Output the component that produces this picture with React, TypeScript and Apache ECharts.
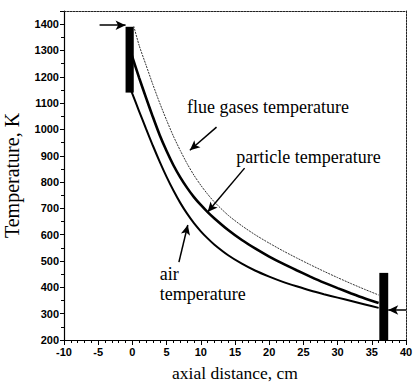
import React, { useEffect, useRef } from 'react';
import * as echarts from 'echarts';

// axial distance (cm) and temperature (K)
const flueX = [0.2, 1, 2, 3, 4, 5, 6, 7, 8, 9, 10, 11, 12, 14, 16, 18, 20, 22, 24, 26, 28, 30, 32, 34, 36];
const flueT = [1392, 1318, 1244, 1170, 1100, 1035, 974, 920, 870, 826, 788, 754, 724, 674, 634, 599, 568, 539, 512, 486, 461, 437, 414, 392, 371];

const particleX = [-0.5, 0, 1, 2, 3, 4, 5, 6, 7, 8, 9, 10, 11, 12, 14, 16, 18, 20, 22, 24, 26, 28, 30, 32, 34, 36];
const particleT = [1315, 1275, 1195, 1120, 1047, 978, 918, 864, 818, 778, 743, 713, 686, 662, 618, 580, 547, 517, 490, 465, 441, 418, 397, 377, 358, 341];

const airX = [-0.5, 0, 1, 2, 3, 4, 5, 6, 7, 8, 9, 10, 11, 12, 14, 16, 18, 20, 22, 24, 26, 28, 30, 32, 34, 36];
const airT = [1170, 1135, 1068, 1002, 938, 877, 820, 768, 721, 680, 644, 613, 586, 562, 522, 490, 463, 441, 421, 404, 388, 374, 361, 348, 335, 322];

// black end blocks [x0, x1, T0, T1]
const leftBlock = [-1.0, 0.2, 1140, 1390];
const rightBlock = [36.1, 37.4, 200, 455];

// arrows [xFrom, TFrom, xTo, TTo]
const inletArrowTop = [-4.8, 1396, -1.0, 1396];
const inletArrowRight = [40, 314, 37.4, 314];
const flueArrow = [12.3, 1009, 8.4, 921];
const particleArrow = [16.4, 853, 11.0, 686];
const airArrow = [6.8, 496, 8.1, 637];

// annotation labels [text, x, T]
const labels: [string, number, number][] = [
  ['flue gases temperature', 8.0, 1085],
  ['particle temperature', 15.2, 895],
  ['air', 4.0, 449],
  ['temperature', 4.0, 373],
];

const xTicks = { min: -10, max: 40, interval: 5 };
const yTicks = { min: 200, max: 1450, interval: 100 };

export default function App() {
  const ref = useRef<HTMLDivElement>(null);
  useEffect(() => {
    if (!ref.current) return;
    const chart = echarts.init(ref.current, null, { renderer: 'svg' });
    const tickFont = { fontFamily: 'Liberation Sans', fontSize: 11, fontWeight: 'bold' as const, color: '#000' };
    const arrowLine = (a: number[]) => [
      { coord: [a[0], a[1]], symbol: 'none' },
      { coord: [a[2], a[3]], symbol: 'arrow' },
    ];
    const curve = (name: string, xs: number[], ts: number[], lineStyle: any) => ({
      name,
      type: 'line',
      showSymbol: false,
      smooth: 0.25,
      data: xs.map((x, i) => [x, ts[i]]),
      lineStyle,
      z: 2,
    });
    const option: any = {
      animation: false,
      backgroundColor: '#fff',
      grid: { left: 64, right: 7, top: 11, bottom: 45, show: false, containLabel: false, outerBoundsMode: 'none' },
      xAxis: [
        {
          type: 'value',
          min: xTicks.min,
          max: xTicks.max,
          interval: xTicks.interval,
          name: 'axial distance, cm',
          nameLocation: 'middle',
          nameGap: 24,
          nameTextStyle: { fontFamily: 'Liberation Serif', fontSize: 17.5, color: '#000', verticalAlign: 'top' },
          axisLine: { onZero: false, lineStyle: { color: '#000', width: 1.2 } },
          axisTick: { length: 5, lineStyle: { color: '#000' } },
          minorTick: { show: true, splitNumber: 5, length: 3, lineStyle: { color: '#000' } },
          axisLabel: { ...tickFont, margin: 6 },
          splitLine: { show: false },
        },
        {
          type: 'value',
          position: 'top',
          min: xTicks.min,
          max: xTicks.max,
          axisLine: { show: true, onZero: false, lineStyle: { color: '#222', width: 1, type: [2, 1] } },
          axisTick: { show: false },
          axisLabel: { show: false },
          splitLine: { show: false },
        },
      ],
      yAxis: [
        {
          type: 'value',
          min: yTicks.min,
          max: yTicks.max,
          interval: yTicks.interval,
          name: 'Temperature, K',
          nameLocation: 'middle',
          nameGap: 42,
          nameTextStyle: { fontFamily: 'Liberation Serif', fontSize: 20, color: '#000' },
          axisLine: { show: true, onZero: false, lineStyle: { color: '#000', width: 1.2 } },
          axisTick: { length: 4, lineStyle: { color: '#000' } },
          minorTick: { show: true, splitNumber: 2, length: 3, lineStyle: { color: '#000' } },
          axisLabel: {
            ...tickFont,
            margin: 5,
            formatter: (v: number) => (v % 100 === 0 ? String(v) : ''),
          },
          splitLine: { show: false },
        },
        {
          type: 'value',
          position: 'right',
          min: yTicks.min,
          max: yTicks.max,
          axisLine: { show: true, onZero: false, lineStyle: { color: '#222', width: 1, type: [2, 1] } },
          axisTick: { show: false },
          axisLabel: { show: false },
          splitLine: { show: false },
        },
      ],
      series: [
        curve('flue gases', flueX, flueT, { color: '#333', width: 1, type: [2, 1] }),
        curve('particle', particleX, particleT, { color: '#000', width: 2.6 }),
        curve('air', airX, airT, { color: '#000', width: 2 }),
        {
          name: 'marks',
          type: 'line',
          data: [],
          z: 5,
          markArea: {
            silent: true,
            itemStyle: { color: '#000', opacity: 1 },
            label: { show: false },
            data: [
              [{ xAxis: leftBlock[0], yAxis: leftBlock[2] }, { xAxis: leftBlock[1], yAxis: leftBlock[3] }],
              [{ xAxis: rightBlock[0], yAxis: rightBlock[2] }, { xAxis: rightBlock[1], yAxis: rightBlock[3] }],
            ],
          },
          markLine: {
            silent: true,
            symbolSize: [7, 10],
            label: { show: false },
            lineStyle: { color: '#000', width: 1.5, type: 'solid' },
            data: [
              arrowLine(inletArrowTop),
              arrowLine(inletArrowRight),
              arrowLine(flueArrow),
              arrowLine(particleArrow),
              arrowLine(airArrow),
            ],
          },
        },
      ],
    };
    chart.setOption(option);
    const graphic = labels.map(([text, x, t]) => {
      const p = chart.convertToPixel({ gridIndex: 0 }, [x, t]) as number[];
      return {
        type: 'text',
        x: p[0],
        y: p[1],
        style: {
          text,
          fill: '#000',
          font: '18px "Liberation Serif"',
          align: 'left',
          verticalAlign: 'middle',
        },
        z: 10,
      };
    });
    chart.setOption({ graphic });
    return () => chart.dispose();
  }, []);
  return <div ref={ref} style={{ position: 'absolute', left: 0, top: 0, width: 413, height: 385 }} />;
}
